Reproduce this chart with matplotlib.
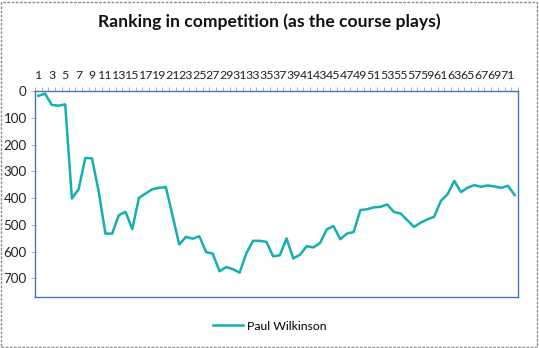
import matplotlib
matplotlib.use("Agg")
import matplotlib.pyplot as plt
from matplotlib.patches import Rectangle

# rank at each hole
holes = list(range(1, 73))
ranking = [18, 10, 52, 55, 50, 402, 367, 250, 252, 377,
           533, 533, 464, 452, 516, 399, 383, 367, 362, 359,
           465, 574, 545, 552, 543, 602, 608, 674, 658, 666,
           679, 607, 560, 560, 564, 618, 614, 551, 626, 612,
           580, 585, 568, 517, 505, 554, 533, 527, 445, 442,
           435, 433, 424, 452, 458, 483, 508, 492, 480, 470,
           411, 386, 336, 378, 361, 352, 358, 353, 357, 362,
           354, 389]
tick_labels = [str(h) for h in holes[::2]]
y_ticks = [0, 100, 200, 300, 400, 500, 600, 700]

plt.rcParams['font.family'] = ['Lato', 'DejaVu Sans']
line_col = '#14b0ad'
frame_col = '#4472c4'

W, H = 539, 348
fig = plt.figure(figsize=(W / 100, H / 100), dpi=100)

# dashed chart-area border
fig.patches.append(Rectangle((1 / W, 1 / H), 1 - 3 / W, 1 - 3 / H, transform=fig.transFigure,
                             fill=False, ec='#8c8c8c', lw=1, ls=(0, (2, 1))))

ax = fig.add_axes([35 / W, 1 - 297 / H, 483 / W, 206 / H])
xs = list(range(len(holes)))
ax.plot(xs, ranking, color=line_col, lw=1.8, label='Paul Wilkinson')

ax.set_xlim(-0.5, len(holes) - 0.5)
ax.set_ylim(770, 0)
ax.xaxis.tick_top()
ax.set_xticks(xs[::2])
ax.set_xticklabels(tick_labels, fontsize=8.9, color='#222222')
ax.set_xticks([x - 0.5 for x in range(len(holes) + 1)], minor=True)
ax.tick_params(axis='x', which='major', length=0, pad=7)
ax.tick_params(axis='x', which='minor', length=3, color='#a0a0a0', width=0.6, top=True, bottom=False)
ax.set_yticks(y_ticks)
ax.set_yticklabels([str(v) for v in y_ticks], fontsize=9.6, color='#222222')
ax.tick_params(axis='y', length=3, color='#a0a0a0', width=0.6, pad=3)
for s in ax.spines.values():
    s.set_color(frame_col)
    s.set_linewidth(1.0)

fig.text(0.5, 1 - 22 / H, 'Ranking in competition (as the course plays)',
         ha='center', va='center', fontsize=12.6, fontweight='bold', color='#111111')

fig.legend(loc='center', bbox_to_anchor=(0.5, 1 - 326 / H), frameon=False,
           fontsize=8.8, handlelength=2.5, handletextpad=0.3)

fig.savefig('out.png', dpi=100)
